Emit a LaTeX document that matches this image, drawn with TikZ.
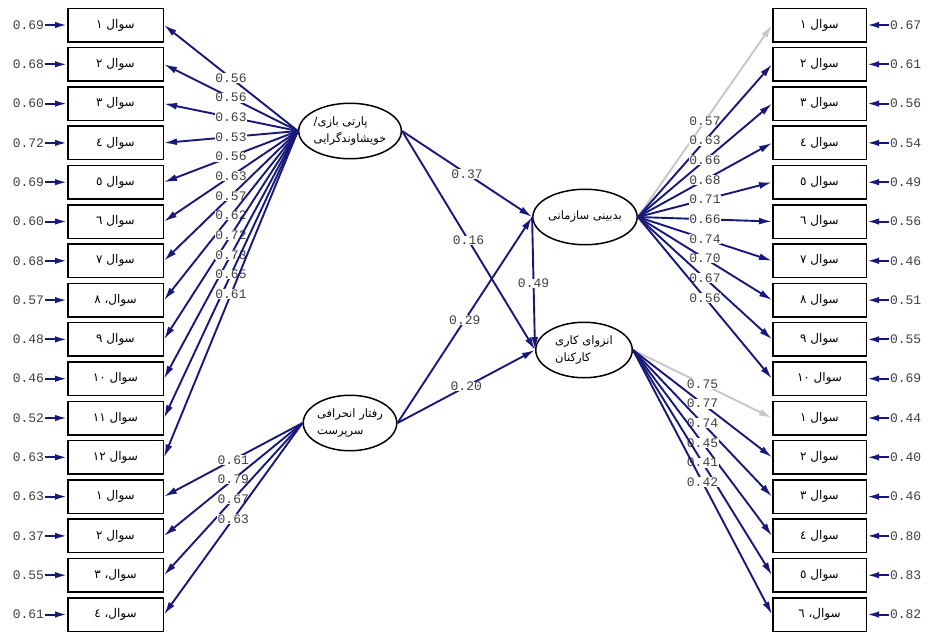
\documentclass[tikz,border=0pt]{standalone}
\usepackage{fontspec}
\setmonofont{Liberation Mono}
\newfontfamily\arabicfont[Script=Arabic]{DejaVu Sans}
\TeXXeTstate=1
\usetikzlibrary{arrows.meta, positioning, shapes.geometric, matrix}
\definecolor{amosblue}{RGB}{24,24,122}
\newcommand{\soal}[2][]{\beginR سوال#1 \beginL#2\endL\endR}

\begin{document}
\begin{tikzpicture}[x=1pt, y=-1pt,
    qbox/.style={draw, line width=1.5pt, minimum width=95.5pt, minimum height=33.5pt, anchor=center, font=\arabicfont\fontsize{12}{14}\selectfont},
    errval/.style={font=\ttfamily\fontsize{13}{13}\selectfont, text=black!75, inner sep=1pt, anchor=center},
    latent/.style={draw, ellipse, line width=1.5pt, minimum width=93.5pt, minimum height=55.5pt, inner sep=0pt, align=left, font=\arabicfont\fontsize{11.5}{17}\selectfont},
    load/.style={draw=amosblue, line width=1.9pt, -{Latex[length=13pt, width=7pt]}},
    fixload/.style={load, draw=black!22},
    erra/.style={draw=amosblue, line width=2pt, -{Latex[length=12pt, width=6.5pt]}},
    est/.style={font=\ttfamily\fontsize{13}{13}\selectfont, text=black!75, fill=white, inner sep=0.5pt}]
  \useasboundingbox (0,0) rectangle (928,637);

  \matrix (lq) [matrix of nodes, matrix anchor=lq-1-2.center,
    row sep=4.3pt, column sep=22pt,
    column 1/.style={nodes={errval}},
    column 2/.style={nodes={qbox}},
    ampersand replacement=\&
    ] at (115.5,25) {
    0.69 \& \soal{١} \\
    0.68 \& \soal{٢} \\
    0.60 \& \soal{٣} \\
    0.72 \& \soal{٤} \\
    0.69 \& \soal{٥} \\
    0.60 \& \soal{٦} \\
    0.68 \& \soal{٧} \\
    0.57 \& \soal[،]{٨} \\
    0.48 \& \soal{٩} \\
    0.46 \& \soal{١٠} \\
    0.52 \& \soal{١١} \\
    0.63 \& \soal{١٢} \\
    0.63 \& \soal{١} \\
    0.37 \& \soal{٢} \\
    0.55 \& \soal[،]{٣} \\
    0.61 \& \soal[،]{٤} \\
  };

  \matrix (rq) [matrix of nodes, matrix anchor=rq-1-1.center,
    row sep=4.3pt, column sep=22pt,
    column 1/.style={nodes={qbox, minimum width=93.5pt}},
    column 2/.style={nodes={errval}},
    ampersand replacement=\&
    ] at (819.5,25) {
    \soal{١} \& 0.67 \\
    \soal{٢} \& 0.61 \\
    \soal{٣} \& 0.56 \\
    \soal{٤} \& 0.54 \\
    \soal{٥} \& 0.49 \\
    \soal{٦} \& 0.56 \\
    \soal{٧} \& 0.46 \\
    \soal{٨} \& 0.51 \\
    \soal{٩} \& 0.55 \\
    \soal{١٠} \& 0.69 \\
    \soal{١} \& 0.44 \\
    \soal{٢} \& 0.40 \\
    \soal{٣} \& 0.46 \\
    \soal{٤} \& 0.80 \\
    \soal{٥} \& 0.83 \\
    \soal[،]{٦} \& 0.82 \\
  };

  \node[latent] (nepot) at (350,131) {\beginR پارتی بازی/\endR\\\beginR خویشاوندگرایی\endR};
  \node[latent] (cynic) at (585,217) {\beginR بدبینی سازمانی\endR};
  \node[latent, minimum width=96.5pt] (isol) at (584,350) {\beginR انزوای کاری\endR\\\beginR کارکنان\endR};
  \node[latent] (devi) at (350,423) {\beginR رفتار انحرافی\endR\\\beginR سرپرست\endR};

  \foreach \i in {1,...,16} {
    \draw[erra] (lq-\i-1) -- (lq-\i-2);
    \draw[erra] (rq-\i-2) -- (rq-\i-1);
  }

  \foreach \i/\w in {1/0.56, 2/0.56, 3/0.63, 4/0.53, 5/0.56, 6/0.63, 7/0.57, 8/0.62, 9/0.72, 10/0.73, 11/0.65, 12/0.61}
    \draw[load] (nepot.west) -- node[est] {\w} (lq-\i-2.east);
  \foreach \i/\w in {13/0.61, 14/0.79, 15/0.67, 16/0.63}
    \draw[load] (devi.west) -- node[est] {\w} (lq-\i-2.east);

  \draw[fixload] (cynic.east) -- node[est] {0.57} (rq-1-1.west);
  \foreach \i/\w in {2/0.63, 3/0.66, 4/0.68, 5/0.71, 6/0.66, 7/0.74, 8/0.70, 9/0.67, 10/0.56}
    \draw[load] (cynic.east) -- node[est] {\w} (rq-\i-1.west);
  \draw[fixload] (isol.east) -- node[est] {0.75} (rq-11-1.west);
  \foreach \i/\w in {12/0.77, 13/0.74, 14/0.45, 15/0.41, 16/0.42}
    \draw[load] (isol.east) -- node[est] {\w} (rq-\i-1.west);

  \draw[load] (nepot.east) -- node[est] {0.37} (cynic.west);
  \draw[load] (nepot.east) -- node[est] {0.16} (isol.west);
  \draw[load] (devi.east) -- node[est] {0.29} (cynic.west);
  \draw[load] (devi.east) -- node[est] {0.20} (isol.west);
  \draw[load] (cynic.west) -- node[est] {0.49} (isol.west);
\end{tikzpicture}
\end{document}
